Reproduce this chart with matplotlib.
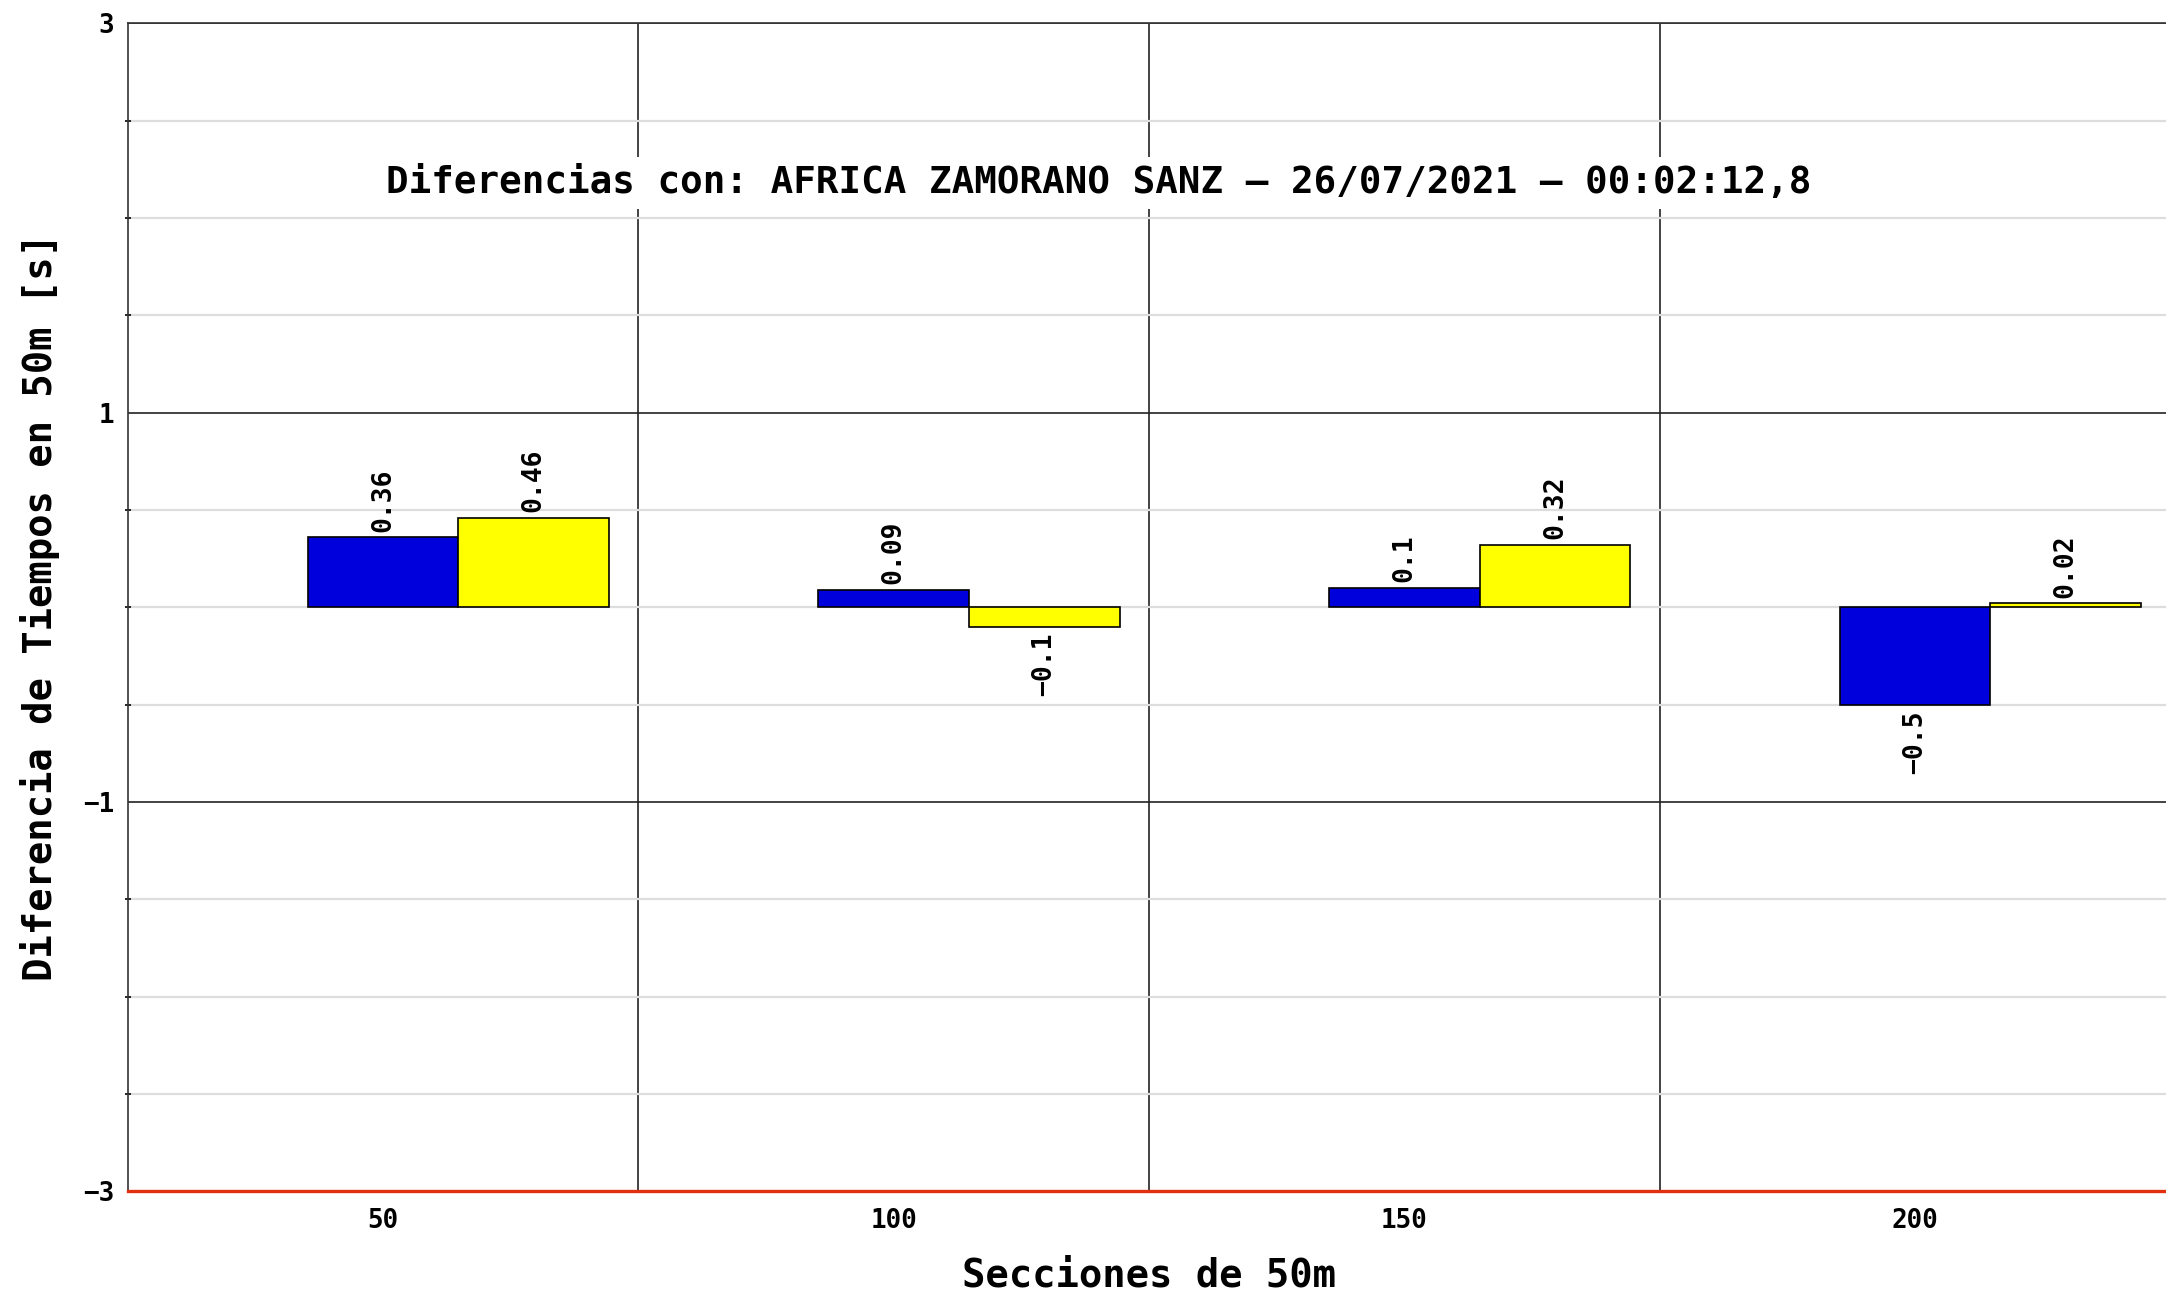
import numpy as np
import matplotlib.pyplot as plt
from matplotlib.ticker import MultipleLocator, FixedLocator

secciones = ['50', '100', '150', '200']
serie_azul = [0.36, 0.09, 0.1, -0.5]
serie_amarilla = [0.46, -0.1, 0.32, 0.02]
titulo = 'Diferencias con: AFRICA ZAMORANO SANZ \u2013 26/07/2021 \u2013 00:02:12,8'

plt.rcParams['font.family'] = 'DejaVu Sans Mono'
plt.rcParams['font.weight'] = 'bold'
plt.rcParams['axes.unicode_minus'] = True

fig = plt.figure(figsize=(10.83, 6.46), dpi=200)
ax = fig.add_axes([0.059, 0.078, 0.943, 0.904])

x = np.arange(len(secciones))
w = 0.295
b1 = ax.bar(x, serie_azul, w, color='#0000dd', edgecolor='black', linewidth=0.6, zorder=3)
b2 = ax.bar(x + w, serie_amarilla, w, color='#ffff00', edgecolor='black', linewidth=0.6, zorder=3)

# etiquetas de valor, verticales
for bars, vals in [(b1, serie_azul), (b2, serie_amarilla)]:
    for r, v in zip(bars, vals):
        cx = r.get_x() + r.get_width() / 2
        txt = f'{v:g}'.replace('-', '\u2212')
        if v >= 0:
            ax.annotate(txt, (cx, v), xytext=(0, 2), textcoords='offset points',
                        rotation=90, ha='center', va='bottom', fontsize=9.5, fontweight='bold')
        else:
            ax.annotate(txt, (cx, v), xytext=(0, -2), textcoords='offset points',
                        rotation=90, ha='center', va='top', fontsize=9.5, fontweight='bold')

ax.set_xlim(-0.5, 3.5)
ax.set_ylim(-3, 3)
ax.set_xticks(x)
ax.set_xticklabels(secciones)
ax.xaxis.set_minor_locator(FixedLocator([0.5, 1.5, 2.5]))
ax.yaxis.set_major_locator(FixedLocator([-3, -1, 1, 3]))
ax.yaxis.set_minor_locator(MultipleLocator(0.5))
ax.tick_params(axis='x', which='both', length=0, labelsize=9.3, pad=6)
ax.tick_params(axis='y', which='major', length=0, labelsize=9.3, pad=5)
ax.tick_params(axis='y', which='minor', length=2, direction='inout', width=0.6)
for lab in ax.get_xticklabels() + ax.get_yticklabels():
    lab.set_fontweight('bold')

ax.grid(axis='y', which='major', color='#222222', linewidth=0.6, zorder=0)
ax.grid(axis='y', which='minor', color='#dddddd', linewidth=0.8, zorder=0)
ax.grid(axis='x', which='minor', color='#222222', linewidth=0.6, zorder=0)
ax.grid(axis='x', which='major', visible=False)
ax.set_axisbelow(True)

for s in ['top', 'left', 'right']:
    ax.spines[s].set_color('#333333')
    ax.spines[s].set_linewidth(0.6)
ax.spines['bottom'].set_color('#e03010')
ax.spines['bottom'].set_linewidth(1.2)

ax.text(0.005, 2.18, titulo, ha='left', va='center', fontsize=13.5, fontweight='bold',
        bbox=dict(facecolor='white', edgecolor='none', pad=3), zorder=4)

ax.set_xlabel('Secciones de 50m', fontsize=14, fontweight='bold', labelpad=8)
ax.set_ylabel('Diferencia de Tiempos en 50m [s]', fontsize=14, fontweight='bold', labelpad=8)

fig.savefig('out.png', dpi=200)
